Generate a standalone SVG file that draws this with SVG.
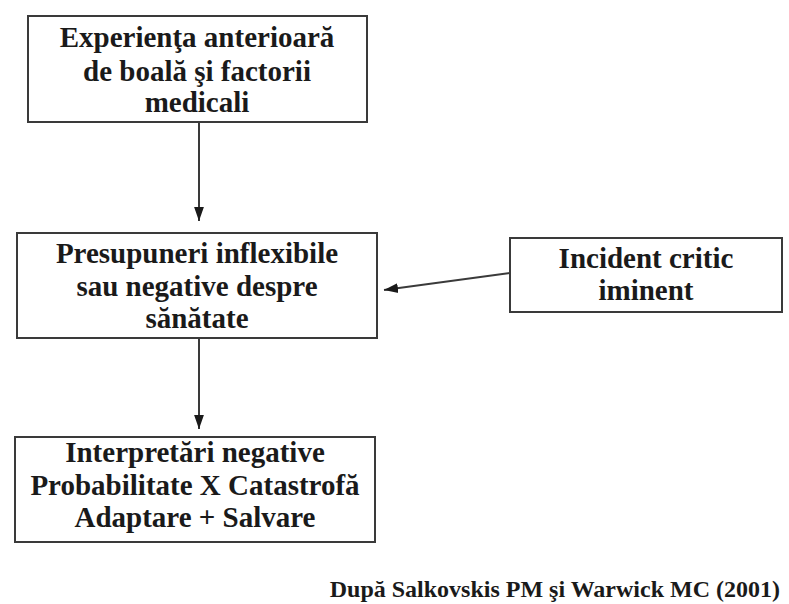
<svg xmlns="http://www.w3.org/2000/svg" width="789" height="604" viewBox="0 0 789 604">
<defs>
<style>
.box{fill:none;stroke:#3a3a3a;stroke-width:2}
.t{font-family:"Liberation Serif","Times New Roman",serif;font-weight:bold;font-size:29px;fill:#1a1a1a;text-anchor:middle}
.cap{font-family:"Liberation Serif","Times New Roman",serif;font-weight:bold;font-size:24px;fill:#1a1a1a;text-anchor:end}
.ln{stroke:#3a3a3a;stroke-width:2;fill:none}
</style>
<marker id="ah2" viewBox="0 0 10 10" refX="10" refY="5" markerWidth="14" markerHeight="14" markerUnits="userSpaceOnUse" orient="auto">
<path d="M0,1.5 L10,5 L0,8.5 Z" fill="#1a1a1a"/>
</marker>
</defs>
<rect width="789" height="604" fill="#ffffff"/>
<g id="connectors">
<line class="ln" x1="199" y1="122" x2="199" y2="221" marker-end="url(#ah2)"/>
<line class="ln" x1="199" y1="338" x2="199" y2="429" marker-end="url(#ah2)"/>
<line class="ln" x1="510" y1="273" x2="384" y2="290" marker-end="url(#ah2)"/>
</g>
<g id="node-experienta">
<rect class="box" x="28" y="16" width="339" height="106"/>
<text class="t" x="197" y="47">Experienţa anterioară</text>
<text class="t" x="197" y="81">de boală şi factorii</text>
<text class="t" x="197" y="112">medicali</text>
</g>
<g id="node-presupuneri">
<rect class="box" x="17" y="233" width="360" height="105"/>
<text class="t" x="197" y="263">Presupuneri inflexibile</text>
<text class="t" x="197" y="296">sau negative despre</text>
<text class="t" x="197" y="328">sănătate</text>
</g>
<g id="node-incident">
<rect class="box" x="510" y="238" width="272" height="74"/>
<text class="t" x="646" y="268">Incident critic</text>
<text class="t" x="646" y="300">iminent</text>
</g>
<g id="node-interpretari">
<rect class="box" x="15" y="437" width="360" height="105"/>
<text class="t" x="195" y="462">Interpretări negative</text>
<text class="t" x="195" y="495">Probabilitate X Catastrofă</text>
<text class="t" x="195" y="527">Adaptare + Salvare</text>
</g>
<text class="cap" x="780" y="597">După Salkovskis PM şi  Warwick MC (2001)</text>
</svg>
